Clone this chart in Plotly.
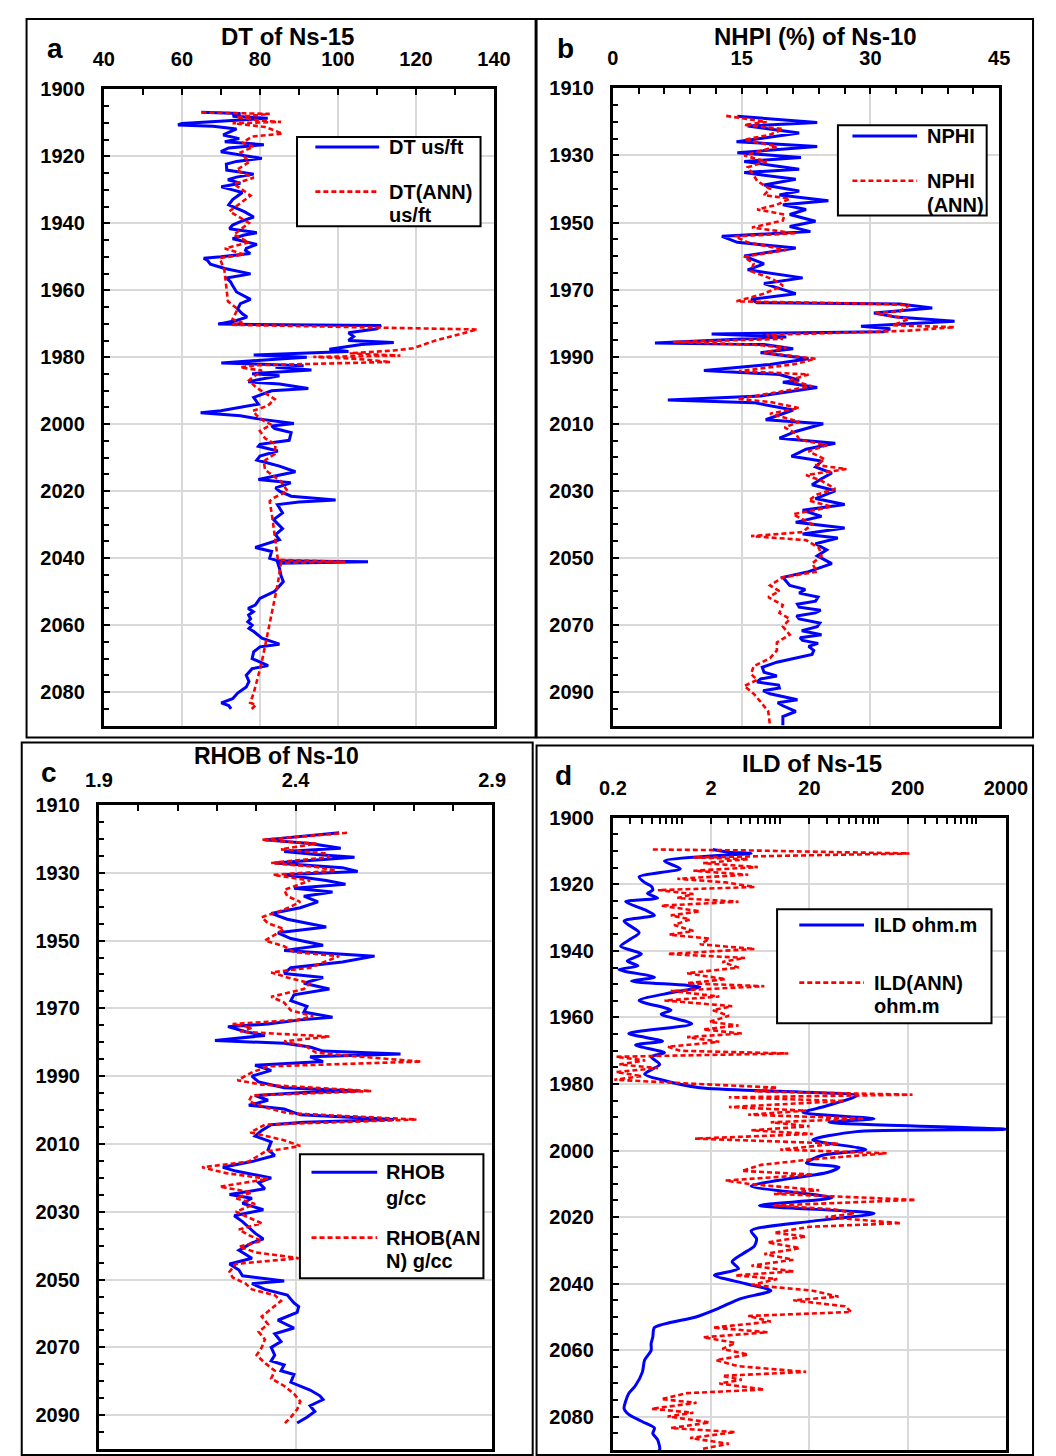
import math
import plotly.graph_objects as go

# ---------------------------------------------------------------- data
# (a) DT of Ns-15: measured and ANN-predicted sonic, us/ft
dt_depth = [1906.8, 1907.2, 1908.0, 1908.6, 1909.2, 1910.2, 1910.6, 1911.0, 1911.8, 1913.0,
            1913.6, 1914.7, 1915.6, 1916.5, 1917.5, 1918.6, 1919.5, 1920.6, 1921.5, 1922.3,
            1924.1, 1925.3, 1926.2, 1927.0, 1928.0, 1929.1, 1930.0, 1930.8, 1932.9, 1934.5,
            1936.5, 1938.1, 1939.5, 1940.5, 1941.6, 1942.8, 1943.5, 1944.6, 1946.3, 1947.5,
            1948.1, 1949.0, 1950.0, 1950.4, 1951.0, 1952.2, 1953.5, 1955.1, 1956.3, 1957.5,
            1958.6, 1960.5, 1962.7, 1964.0, 1965.6, 1967.0, 1968.0, 1969.0, 1970.1, 1970.5,
            1971.5, 1972.7, 1973.8, 1975.0, 1975.6, 1976.2, 1977.6, 1978.3, 1979.3, 1980.0,
            1980.6, 1981.7, 1982.5, 1983.0, 1983.8, 1984.9, 1985.5, 1987.3, 1988.0, 1989.3,
            1990.0, 1992.0, 1994.0, 1996.0, 1996.6, 1997.5, 1998.4, 1999.8, 2000.5, 2001.3,
            2002.5, 2004.8, 2006.0, 2006.6, 2008.0, 2009.5, 2010.7, 2012.5, 2014.2, 2015.5,
            2016.5, 2017.5, 2019.0, 2020.0, 2021.5, 2022.6, 2023.2, 2024.0, 2026.5, 2028.5,
            2031.2, 2033.0, 2034.5, 2036.8, 2038.0, 2040.0, 2040.8, 2041.1, 2041.5, 2043.0,
            2045.2, 2047.0, 2049.9, 2052.0, 2054.0, 2055.0, 2056.0, 2057.0, 2058.1, 2059.0,
            2060.0, 2061.0, 2062.0, 2063.9, 2065.7, 2066.5, 2068.0, 2070.0, 2072.1, 2073.0,
            2075.0, 2076.8, 2078.5, 2080.3, 2082.0, 2083.2, 2084.0, 2085.0]
dt_meas = [65.0, 75.0, 73.0, 82.0, 74.0, 60.0, 59.0, 68.0, 74.0, 72.0,
           70.6, 74.7, 71.0, 81.0, 72.0, 70.0, 75.0, 80.5, 74.0, 71.4,
           71.5, 78.4, 74.0, 71.8, 75.0, 70.1, 73.0, 75.5, 73.0, 72.0,
           76.0, 78.4, 75.0, 73.0, 72.2, 79.2, 76.0, 73.0, 79.2, 76.5,
           76.3, 77.5, 70.0, 65.6, 66.5, 67.3, 71.0, 77.6, 71.4, 72.5,
           73.0, 74.0, 77.6, 75.0, 74.3, 75.5, 76.7, 74.0, 69.3, 111.0,
           110.0, 102.7, 104.0, 102.7, 114.3, 106.0, 97.8, 102.7, 78.4, 92.0,
           84.0, 70.1, 91.2, 84.0, 93.2, 78.0, 85.0, 77.0, 85.0, 92.4,
           83.0, 78.4, 79.6, 70.0, 64.8, 75.0, 79.6, 88.7, 83.0, 83.8,
           88.0, 87.5, 80.0, 79.6, 84.6, 80.0, 79.2, 85.0, 89.1, 84.0,
           79.6, 87.9, 84.0, 85.0, 88.0, 99.4, 90.0, 84.5, 85.8, 83.5,
           85.8, 84.0, 85.0, 78.8, 83.0, 82.5, 84.6, 107.7, 84.6, 85.0,
           85.4, 86.0, 83.8, 80.0, 78.8, 77.0, 78.3, 77.1, 77.6, 76.9,
           78.0, 77.2, 78.5, 80.5, 85.0, 80.0, 78.4, 78.0, 82.1, 78.0,
           76.5, 77.2, 76.5, 74.3, 73.0, 70.1, 72.0, 72.6]

dt_ann_depth = [1906.9, 1907.3, 1908.3, 1909.3, 1909.7, 1910.1, 1911.2, 1912.3, 1913.2, 1914.1,
                1915.9, 1917.1, 1918.8, 1921.7, 1924.1, 1926.4, 1928.2, 1931.7, 1936.4, 1939.9,
                1943.4, 1945.7, 1947.5, 1949.3, 1950.4, 1954.0, 1958.6, 1963.3, 1965.6, 1968.6,
                1969.7, 1970.3, 1971.7, 1973.5, 1975.0, 1977.3, 1978.0, 1978.8, 1979.5, 1979.9,
                1980.5, 1981.4, 1981.8, 1982.0, 1982.4, 1983.0, 1984.0, 1986.9, 1989.0, 1992.5,
                1994.5, 1996.0, 1997.4, 1999.0, 2000.1, 2002.0, 2004.2, 2006.0, 2008.9, 2011.0,
                2013.6, 2017.1, 2020.0, 2022.0, 2023.0, 2028.0, 2033.5, 2040.5, 2041.1, 2041.4,
                2047.5, 2056.9, 2063.9, 2070.9, 2076.8, 2080.3, 2083.2, 2083.8, 2085.5]
dt_ann = [65.0, 82.5, 73.9, 80.0, 85.4, 73.0, 81.3, 83.8, 85.8, 78.0,
          75.5, 78.4, 75.1, 77.2, 74.0, 78.4, 73.3, 77.6, 72.2, 77.2,
          73.3, 77.2, 71.0, 75.9, 69.7, 70.9, 71.4, 71.8, 74.3, 73.0,
          75.5, 72.6, 135.7, 130.0, 125.0, 119.2, 114.3, 103.0, 116.0, 93.7,
          105.0, 113.5, 98.0, 91.0, 79.0, 75.0, 80.5, 77.2, 79.0, 83.8,
          82.0, 78.2, 79.2, 81.0, 82.9, 80.0, 81.3, 84.0, 83.8, 81.0,
          81.3, 85.4, 87.1, 83.5, 82.5, 83.2, 83.8, 84.6, 101.9, 85.4,
          84.6, 82.9, 81.7, 80.5, 79.2, 78.4, 77.5, 79.0, 77.5]

# (b) NPHI of Ns-10: measured and ANN-predicted neutron porosity, %
nphi_depth = [1918.3, 1920.2, 1921.2, 1923.3, 1925.9, 1927.3, 1929.2, 1930.6, 1931.8, 1934.1,
              1935.1, 1937.1, 1938.8, 1940.6, 1941.8, 1943.5, 1944.7, 1946.1, 1947.6, 1949.6,
              1951.2, 1952.7, 1954.1, 1955.9, 1957.6, 1960.0, 1962.3, 1964.1, 1966.5, 1968.2,
              1971.2, 1972.9, 1973.9, 1974.3, 1975.5, 1977.0, 1978.2, 1979.4, 1980.9, 1981.7,
              1982.6, 1983.2, 1984.1, 1985.9, 1986.4, 1987.6, 1988.8, 1990.6, 1992.3, 1994.1,
              1995.3, 1997.0, 1997.6, 1999.2, 2001.7, 2002.9, 2003.7, 2005.9, 2008.8, 2010.0,
              2012.3, 2014.3, 2015.8, 2017.6, 2019.7, 2021.1, 2022.9, 2024.7, 2026.4, 2028.2,
              2030.0, 2032.3, 2034.1, 2035.8, 2037.6, 2039.4, 2041.1, 2042.9, 2044.1, 2045.8,
              2047.6, 2049.4, 2051.7, 2054.1, 2055.8, 2058.2, 2059.4, 2060.5, 2061.7, 2062.9,
              2063.8, 2064.7, 2065.6, 2066.4, 2067.3, 2068.2, 2069.4, 2070.5, 2071.7, 2072.9,
              2073.8, 2074.6, 2075.5, 2076.4, 2077.6, 2078.8, 2081.1, 2082.6, 2084.1, 2085.2,
              2086.1, 2087.0, 2087.9, 2088.8, 2089.6, 2090.5, 2092.3, 2093.2, 2094.1, 2095.8,
              2097.3, 2100.0]
nphi = [14.5, 23.8, 15.7, 21.7, 14.4, 23.8, 14.5, 21.9, 15.3, 21.7,
        15.3, 21.3, 17.6, 21.7, 19.4, 25.1, 19.8, 22.5, 20.6, 23.6,
        20.6, 23.0, 12.7, 14.5, 21.3, 15.3, 17.6, 15.7, 22.1, 17.6,
        21.3, 16.1, 16.8, 33.4, 37.2, 30.4, 33.0, 39.8, 28.9, 32.3,
        31.5, 11.5, 20.2, 4.9, 17.6, 21.0, 17.2, 22.8, 18.3, 10.6,
        19.4, 21.7, 19.8, 23.8, 17.2, 6.4, 16.4, 21.0, 17.8, 24.5,
        21.3, 19.4, 25.9, 22.5, 20.8, 24.3, 23.6, 25.5, 24.3, 23.2,
        25.9, 23.6, 27.0, 22.1, 24.3, 21.3, 27.0, 22.1, 26.2, 23.6,
        24.9, 23.8, 25.5, 22.8, 19.8, 20.6, 22.4, 21.7, 23.9, 23.6,
        21.5, 21.7, 24.2, 23.6, 21.4, 21.7, 24.1, 23.8, 22.0, 24.3,
        21.8, 22.1, 23.9, 22.8, 23.4, 23.2, 19.1, 17.4, 17.6, 19.1,
        17.2, 16.8, 19.3, 19.4, 17.5, 18.3, 21.5, 19.2, 19.8, 21.3,
        19.8, 19.8]

nphi_ann_depth = [1918.2, 1920.0, 1920.9, 1922.1, 1923.8, 1925.3, 1927.3, 1930.0, 1931.8, 1933.5,
                  1935.9, 1937.6, 1940.0, 1941.8, 1942.9, 1944.7, 1946.1, 1947.6, 1949.4, 1951.5,
                  1953.2, 1954.1, 1955.9, 1958.2, 1960.2, 1962.3, 1964.5, 1967.0, 1968.8, 1971.2,
                  1973.5, 1974.3, 1974.7, 1976.5, 1977.0, 1978.8, 1980.6, 1981.2, 1982.3, 1982.9,
                  1983.5, 1984.7, 1985.6, 1986.4, 1987.3, 1988.8, 1990.6, 1992.3, 1994.3, 1995.3,
                  1997.0, 1998.8, 2000.6, 2002.6, 2003.5, 2005.3, 2007.0, 2009.4, 2011.1, 2012.9,
                  2014.7, 2016.4, 2018.2, 2020.6, 2022.3, 2023.5, 2025.3, 2027.0, 2029.4, 2031.1,
                  2032.9, 2034.7, 2037.0, 2040.0, 2042.3, 2043.5, 2044.7, 2047.0, 2049.4, 2051.7,
                  2054.1, 2055.8, 2058.2, 2059.9, 2061.7, 2064.1, 2066.4, 2068.2, 2070.5, 2072.9,
                  2075.2, 2077.6, 2079.9, 2082.3, 2084.6, 2086.4, 2088.2, 2090.5, 2092.9, 2095.8,
                  2100.0]
nphi_ann = [13.2, 17.9, 15.3, 19.8, 18.3, 15.3, 19.1, 15.3, 17.9, 15.7,
            16.4, 16.8, 18.3, 17.6, 20.6, 19.1, 16.8, 20.0, 19.8, 16.2,
            21.3, 14.2, 15.7, 20.2, 15.3, 16.4, 16.1, 18.7, 19.8, 17.6,
            14.4, 31.9, 34.5, 33.4, 30.6, 34.5, 32.6, 39.8, 34.1, 26.2,
            17.9, 19.8, 7.0, 16.4, 20.2, 17.6, 23.6, 21.0, 14.7, 22.8,
            20.6, 23.2, 19.1, 14.5, 18.3, 21.7, 18.3, 21.7, 20.0, 21.3,
            21.7, 24.9, 22.8, 24.7, 23.6, 27.2, 22.5, 24.3, 25.9, 23.8,
            22.8, 25.5, 21.0, 23.2, 22.1, 16.1, 22.5, 24.0, 24.3, 23.2,
            23.8, 19.8, 18.3, 19.4, 18.1, 19.8, 19.4, 20.6, 19.8, 20.6,
            19.1, 19.1, 18.3, 16.4, 16.1, 16.8, 15.3, 16.4, 17.2, 18.1,
            18.3]

# (c) RHOB of Ns-10: measured and ANN-predicted bulk density, g/cc
rhob_depth = [1918.2, 1920.3, 1921.4, 1922.8, 1923.7, 1924.6, 1925.4, 1927.1, 1928.5, 1929.6,
              1930.6, 1932.3, 1933.4, 1934.6, 1935.7, 1936.9, 1938.6, 1940.3, 1942.0, 1943.7,
              1946.0, 1947.7, 1949.4, 1951.4, 1952.9, 1954.6, 1956.3, 1958.0, 1959.7, 1960.9,
              1962.6, 1964.3, 1966.0, 1967.7, 1969.4, 1971.1, 1972.6, 1973.4, 1974.6, 1975.4,
              1976.9, 1978.0, 1979.5, 1980.3, 1981.4, 1982.6, 1983.5, 1984.3, 1985.7, 1986.8,
              1988.3, 1990.0, 1991.7, 1993.4, 1994.4, 1994.8, 1995.7, 1997.1, 1998.6, 1999.7,
              2001.4, 2002.8, 2003.6, 2004.3, 2006.0, 2007.7, 2009.4, 2011.7, 2013.4, 2015.2,
              2016.9, 2018.0, 2020.0, 2021.4, 2023.2, 2024.9, 2026.0, 2027.5, 2029.4, 2031.2,
              2032.9, 2034.6, 2036.3, 2038.0, 2039.2, 2041.4, 2043.7, 2045.4, 2047.2, 2048.9,
              2050.4, 2051.2, 2052.9, 2054.6, 2056.9, 2058.0, 2059.7, 2062.0, 2064.3, 2066.0,
              2068.3, 2070.0, 2072.3, 2074.0, 2075.2, 2076.9, 2078.0, 2080.3, 2082.6, 2084.3,
              2085.4, 2087.2, 2088.9, 2090.6, 2092.3]
rhob = [2.511, 2.322, 2.437, 2.515, 2.371, 2.453, 2.550, 2.347, 2.519, 2.558,
        2.371, 2.478, 2.527, 2.396, 2.494, 2.421, 2.457, 2.412, 2.338, 2.379,
        2.478, 2.355, 2.388, 2.470, 2.371, 2.601, 2.519, 2.388, 2.371, 2.470,
        2.421, 2.486, 2.396, 2.388, 2.429, 2.421, 2.494, 2.412, 2.330, 2.228,
        2.273, 2.322, 2.195, 2.371, 2.437, 2.470, 2.667, 2.437, 2.470, 2.297,
        2.338, 2.289, 2.306, 2.371, 2.560, 2.421, 2.297, 2.330, 2.281, 2.371,
        2.412, 2.650, 2.421, 2.338, 2.314, 2.297, 2.338, 2.330, 2.347, 2.289,
        2.215, 2.248, 2.338, 2.306, 2.322, 2.232, 2.289, 2.265, 2.318, 2.244,
        2.265, 2.281, 2.297, 2.318, 2.289, 2.256, 2.289, 2.232, 2.256, 2.265,
        2.371, 2.289, 2.322, 2.379, 2.396, 2.408, 2.404, 2.355, 2.396, 2.347,
        2.363, 2.338, 2.347, 2.338, 2.371, 2.363, 2.396, 2.388, 2.437, 2.462,
        2.470, 2.437, 2.449, 2.429, 2.404]

rhob_ann_depth = [1918.2, 1920.3, 1921.4, 1923.1, 1924.3, 1925.4, 1927.1, 1928.3, 1929.4, 1930.6,
                  1932.3, 1933.4, 1935.1, 1936.9, 1938.6, 1940.9, 1943.1, 1944.9, 1946.6, 1948.3,
                  1950.0, 1951.7, 1953.4, 1954.6, 1955.7, 1958.0, 1959.4, 1960.9, 1962.6, 1964.3,
                  1966.6, 1968.3, 1970.6, 1972.3, 1973.4, 1974.6, 1975.7, 1976.9, 1978.3, 1979.7,
                  1981.4, 1983.1, 1984.3, 1985.7, 1987.1, 1988.9, 1991.2, 1992.5, 1994.4, 1995.7,
                  1997.4, 1999.2, 2000.9, 2002.8, 2004.3, 2006.6, 2008.9, 2010.6, 2012.3, 2015.2,
                  2016.9, 2018.6, 2020.3, 2022.6, 2024.3, 2026.0, 2027.7, 2030.0, 2031.7, 2033.4,
                  2035.2, 2036.9, 2038.6, 2040.3, 2042.0, 2043.7, 2045.4, 2047.7, 2049.4, 2051.2,
                  2052.9, 2054.6, 2056.3, 2058.6, 2060.9, 2063.2, 2065.4, 2067.7, 2070.0, 2072.3,
                  2074.6, 2076.9, 2079.2, 2081.4, 2083.7, 2086.0, 2088.3, 2090.6, 2092.6]
rhob_ann = [2.531, 2.314, 2.453, 2.363, 2.478, 2.486, 2.338, 2.453, 2.503, 2.343,
            2.437, 2.412, 2.371, 2.379, 2.412, 2.371, 2.314, 2.330, 2.371, 2.347,
            2.322, 2.371, 2.396, 2.511, 2.486, 2.437, 2.338, 2.379, 2.437, 2.421,
            2.338, 2.371, 2.388, 2.445, 2.404, 2.240, 2.289, 2.260, 2.486, 2.371,
            2.429, 2.453, 2.568, 2.720, 2.330, 2.289, 2.252, 2.314, 2.593, 2.289,
            2.281, 2.322, 2.379, 2.708, 2.322, 2.285, 2.371, 2.412, 2.322, 2.281,
            2.162, 2.223, 2.330, 2.207, 2.289, 2.248, 2.297, 2.248, 2.281, 2.314,
            2.256, 2.281, 2.314, 2.256, 2.300, 2.408, 2.248, 2.232, 2.240, 2.273,
            2.289, 2.347, 2.363, 2.338, 2.314, 2.330, 2.306, 2.322, 2.314, 2.301,
            2.322, 2.347, 2.338, 2.371, 2.396, 2.412, 2.404, 2.388, 2.371]

# (d) ILD of Ns-15: measured and ANN-predicted deep resistivity, ohm.m
ild_depth = [1909.5, 1910.3, 1910.7, 1911.5, 1913.0, 1915.3, 1917.7, 1919.4, 1920.5, 1921.7,
             1922.7, 1924.1, 1925.2, 1927.6, 1929.3, 1931.0, 1934.5, 1936.5, 1938.6, 1940.9,
             1943.0, 1944.5, 1945.6, 1947.9, 1949.1, 1950.8, 1952.5, 1954.9, 1957.8, 1959.0,
             1961.9, 1964.8, 1967.1, 1968.3, 1970.6, 1971.8, 1974.1, 1977.0, 1978.7, 1981.1,
             1982.2, 1983.4, 1985.0, 1986.9, 1988.6, 1990.4, 1991.5, 1993.6, 1994.3, 1996.8,
             1999.7, 2001.4, 2003.7, 2005.0, 2006.6, 2008.5, 2010.7, 2014.2, 2016.5, 2018.9,
             2021.2, 2024.1, 2026.5, 2028.7, 2031.0, 2033.4, 2035.5, 2037.5, 2040.0, 2042.1,
             2044.5, 2047.3, 2050.0, 2053.2, 2056.0, 2058.0, 2060.1, 2063.0, 2066.5, 2070.6,
             2073.0, 2075.3, 2077.5, 2079.3, 2081.5, 2083.4, 2085.0, 2086.9, 2089.8, 2091.0]
ild = [2.08, 3.0, 5.1, 2.0, 0.67, 0.97, 0.37, 0.42, 0.49, 0.51,
       0.45, 0.57, 0.27, 0.42, 0.53, 0.26, 0.37, 0.30, 0.24, 0.39,
       0.28, 0.36, 0.23, 0.53, 0.31, 1.54, 0.80, 0.37, 0.78, 0.62,
       1.27, 0.29, 0.64, 0.34, 0.67, 0.49, 0.60, 0.42, 0.62, 1.54,
       10.1, 62.0, 45.0, 27.2, 17.2, 91.0, 31.6, 2000.0, 60.0, 21.6,
       75.0, 27.2, 18.6, 40.0, 30.4, 12.0, 5.1, 34.0, 6.2, 91.0,
       21.6, 5.1, 5.8, 5.5, 4.2, 3.27, 3.8, 2.16, 4.5, 8.1,
       4.0, 2.42, 1.4, 0.53, 0.51, 0.49, 0.49, 0.42, 0.40, 0.34,
       0.29, 0.27, 0.26, 0.29, 0.40, 0.53, 0.51, 0.57, 0.60, 0.55]

ild_ann_depth = [1909.5, 1909.8, 1910.7, 1911.9, 1912.4, 1913.6, 1914.8, 1915.9, 1917.1, 1918.3,
                 1919.4, 1920.8, 1921.7, 1922.9, 1924.1, 1925.2, 1926.4, 1928.1, 1929.3, 1930.5,
                 1932.2, 1934.0, 1935.1, 1936.3, 1938.0, 1939.4, 1940.9, 1942.1, 1943.3, 1945.0,
                 1946.7, 1948.5, 1949.7, 1950.6, 1952.0, 1953.7, 1954.9, 1956.6, 1957.8, 1959.5,
                 1961.3, 1962.4, 1963.6, 1964.8, 1965.9, 1967.3, 1968.8, 1970.0, 1970.8, 1971.8,
                 1972.9, 1974.1, 1975.2, 1976.4, 1977.6, 1978.7, 1979.9, 1981.1, 1982.2, 1983.2,
                 1984.0, 1985.1, 1986.9, 1988.0, 1989.2, 1990.4, 1991.5, 1992.7, 1993.9, 1995.0,
                 1996.4, 1997.9, 1999.7, 2000.8, 2002.6, 2004.3, 2006.1, 2007.2, 2009.0, 2010.1,
                 2011.9, 2013.0, 2014.8, 2016.5, 2017.7, 2018.9, 2020.0, 2021.8, 2022.9, 2024.7,
                 2025.8, 2027.6, 2029.3, 2031.1, 2032.8, 2034.6, 2036.3, 2037.5, 2038.6, 2040.4,
                 2042.1, 2043.9, 2045.0, 2046.8, 2048.5, 2049.7, 2051.4, 2053.2, 2054.6, 2056.1,
                 2057.8, 2059.6, 2061.3, 2063.0, 2064.8, 2066.5, 2067.7, 2068.9, 2070.0, 2071.8,
                 2072.9, 2074.7, 2075.8, 2077.6, 2078.8, 2079.9, 2081.7, 2083.4, 2084.6, 2086.4,
                 2088.1, 2089.8]
ild_ann = [0.51, 5.1, 208.0, 1.32, 4.77, 1.66, 5.97, 1.32, 4.77, 0.906,
           2.81, 5.54, 0.575, 1.32, 0.906, 3.80, 0.621, 1.54, 0.778, 1.22,
           0.840, 1.32, 0.750, 1.93, 1.54, 5.54, 0.722, 4.42, 2.60, 3.80,
           1.14, 2.81, 1.14, 6.95, 0.778, 2.42, 0.670, 3.27, 2.08, 3.03,
           1.93, 3.80, 1.66, 4.10, 1.14, 2.42, 0.722, 0.977, 12.2, 0.216,
           0.426, 0.233, 0.575, 0.216, 0.394, 0.207, 1.32, 9.40, 5.54, 224.0,
           3.03, 45.9, 3.03, 18.5, 4.77, 72.2, 8.08, 20.0, 5.14, 21.6,
           1.37, 39.5, 10.1, 122.0, 21.6, 6.44, 4.10, 21.6, 2.81, 5.14,
           25.1, 8.71, 242.0, 8.71, 36.6, 57.6, 29.2, 172.0, 20.0, 8.71,
           18.5, 7.49, 16.0, 6.95, 13.7, 5.14, 13.7, 3.52, 9.40, 5.14,
           21.6, 39.5, 13.7, 45.9, 53.4, 4.77, 8.08, 2.08, 7.49, 1.66,
           3.52, 2.60, 4.77, 2.24, 3.80, 18.5, 2.60, 4.10, 2.42, 6.95,
           1.14, 0.621, 1.42, 0.494, 1.32, 0.722, 1.93, 0.778, 3.52, 1.22,
           3.03, 1.54]

# ---------------------------------------------------------------- styling
W, H = 1056, 1456
FONT = "Liberation Sans, Arial, Helvetica, sans-serif"
BLUE = "#0000ff"
RED = "#ff0000"
GRID = "#d9d9d9"
TICK_FONT = dict(family=FONT, size=20, color="black", weight="bold")


def fx(px):
    return px / W


def fy(py):
    return 1 - py / H


def x_axis(left, right, rng, tickvals, minor, axtype="linear", ticktext=None,
           standoff=12):
    ax = dict(domain=[fx(left), fx(right)], range=rng, type=axtype, side="top",
              tickmode="array", tickvals=tickvals,
              ticks="inside", ticklen=6, tickwidth=2, tickcolor="black",
              minor=minor, showgrid=True, gridcolor=GRID, gridwidth=2,
              showline=True, linecolor="black", linewidth=3, mirror=True,
              zeroline=False, tickfont=TICK_FONT, ticklabelstandoff=standoff,
              fixedrange=True)
    if ticktext is not None:
        ax["ticktext"] = ticktext
    return ax


def y_axis(top, bottom, depth_top, depth_bottom):
    return dict(domain=[fy(bottom), fy(top)], range=[depth_bottom, depth_top],
                tickmode="linear", tick0=depth_top, dtick=20,
                ticks="inside", ticklen=6, tickwidth=2, tickcolor="black",
                minor=dict(ticks="inside", dtick=5, tick0=0, ticklen=5,
                           tickwidth=2, tickcolor="black", showgrid=False),
                showgrid=True, gridcolor=GRID, gridwidth=2,
                showline=True, linecolor="black", linewidth=3, mirror=True,
                zeroline=False, tickfont=TICK_FONT, ticklabelstandoff=12,
                fixedrange=True)


def lin_minor(step):
    return dict(ticks="inside", dtick=step, tick0=0, ticklen=6, tickwidth=2,
                tickcolor="black", showgrid=False)


log_minor_vals = [m * 10 ** e for e in range(-1, 4) for m in range(1, 10)
                  if 0.2 <= m * 10 ** e <= 2000]

fig = go.Figure()


def add_pair(meas_x, meas_y, ann_x, ann_y, xa, ya, meas_shape="linear"):
    fig.add_trace(go.Scatter(x=meas_x, y=meas_y, mode="lines", xaxis=xa, yaxis=ya,
                             line=dict(color=BLUE, width=3, shape=meas_shape,
                                       smoothing=0.7),
                             showlegend=False, hoverinfo="skip"))
    fig.add_trace(go.Scatter(x=ann_x, y=ann_y, mode="lines", xaxis=xa, yaxis=ya,
                             line=dict(color=RED, width=2.6, dash="5px,3px"),
                             showlegend=False, hoverinfo="skip"))


add_pair(dt_meas, dt_depth, dt_ann, dt_ann_depth, "x", "y")
add_pair(nphi, nphi_depth, nphi_ann, nphi_ann_depth, "x2", "y2")
add_pair(rhob, rhob_depth, rhob_ann, rhob_ann_depth, "x3", "y3")
add_pair(ild, ild_depth, ild_ann, ild_ann_depth, "x4", "y4", meas_shape="spline")

layout = dict(
    width=W, height=H, margin=dict(l=0, r=0, t=0, b=0),
    paper_bgcolor="white", plot_bgcolor="white", showlegend=False,
    xaxis=x_axis(93, 497, [40, 140], [40, 60, 80, 100, 120, 140], lin_minor(10)),
    yaxis=y_axis(79, 720, 1900, 2090),
    xaxis2=x_axis(620, 1020, [0, 45], [0, 15, 30, 45], lin_minor(3)),
    yaxis2=y_axis(78, 720, 1910, 2100),
    xaxis3=x_axis(88, 495, [1.9, 2.9], [1.9, 2.4, 2.9], lin_minor(0.1),
                  ticktext=["1.9", "2.4", "2.9"], standoff=7),
    yaxis3=y_axis(800, 1449, 1910, 2100),
    xaxis4=x_axis(620, 1027, [math.log10(0.2), math.log10(2000)],
                  [0.2, 2, 20, 200, 2000],
                  dict(ticks="inside", tickvals=log_minor_vals, ticklen=6,
                       tickwidth=2, tickcolor="black", showgrid=False),
                  axtype="log", ticktext=["0.2", "2", "20", "200", "2000"]),
    yaxis4=y_axis(813, 1450, 1900, 2090),
)
for i in ("", "2", "3", "4"):
    layout["xaxis" + i]["anchor"] = "y" + i
    layout["yaxis" + i]["anchor"] = "x" + i
fig.update_layout(**layout)

shapes = []
annotations = []


def rect(x0, y0, x1, y1, width=2):
    shapes.append(dict(type="rect", xref="paper", yref="paper",
                       x0=fx(x0), x1=fx(x1), y0=fy(y1), y1=fy(y0),
                       line=dict(color="black", width=width), layer="above"))


def seg(x0, x1, y, color, dash=None):
    line = dict(color=color, width=3 if dash is None else 2.6)
    if dash:
        line["dash"] = dash
    shapes.append(dict(type="line", xref="paper", yref="paper",
                       x0=fx(x0), x1=fx(x1), y0=fy(y), y1=fy(y), line=line))


def text(x, y, s, size=20, anchor="left"):
    annotations.append(dict(xref="paper", yref="paper", x=fx(x), y=fy(y), text=s,
                            showarrow=False, xanchor=anchor, yanchor="middle",
                            font=dict(family=FONT, size=size, color="black",
                                      weight="bold")))


# panel frames
rect(13, 8, 540, 732)
rect(541, 8, 1055, 732)
rect(8, 737, 537, 1455)
rect(541, 740, 1055, 1455)

# panel titles and letters
text(283, 26, "DT of Ns-15", 24, "center")
text(830, 26, "NHPI (%) of Ns-10", 24, "center")
text(272, 751, "RHOB of Ns-10", 23, "center")
text(826, 758, "ILD of Ns-15", 24, "center")
text(42, 38, "a", 28, "center")
text(571, 38, "b", 28, "center")
text(36, 767, "c", 28, "center")
text(569, 770, "d", 28, "center")


def legend_box(box, blue_y, red_y, line_x, text_x, blue_lines, red_lines,
               blue_step=24, red_step=24):
    x0, y0, x1, y1 = box
    shapes.append(dict(type="rect", xref="paper", yref="paper",
                       x0=fx(x0), x1=fx(x1), y0=fy(y1), y1=fy(y0),
                       line=dict(color="black", width=2), fillcolor="white",
                       layer="above"))
    seg(line_x[0], line_x[1], blue_y, BLUE)
    seg(line_x[0], line_x[1], red_y, RED, "5px,3px")
    for k, s in enumerate(blue_lines):
        text(text_x, blue_y + k * blue_step, s)
    for k, s in enumerate(red_lines):
        text(text_x, red_y + k * red_step, s)


legend_box((293, 127, 483, 217), 137, 182, (312, 378), 386,
           ["DT us/ft"], ["DT(ANN)", "us/ft"])
legend_box((853, 115, 1007, 206), 126, 171, (868, 935), 943,
           ["NPHI"], ["NPHI", "(ANN)"])
legend_box((296, 1152, 486, 1277), 1170, 1236, (308, 376), 383,
           ["RHOB", "g/cc"], ["RHOB(AN", "N) g/cc"], 26, 24)
legend_box((790, 905, 1012, 1020), 921, 979, (813, 880), 888,
           ["ILD ohm.m"], ["ILD(ANN)", "ohm.m"])

fig.update_layout(shapes=shapes, annotations=annotations)
# the page body gets no margin so the figure fills the window exactly
fig.write_html("out.html",
               post_script="document.body.style.margin='0';"
                           "document.body.style.overflow='hidden';")
